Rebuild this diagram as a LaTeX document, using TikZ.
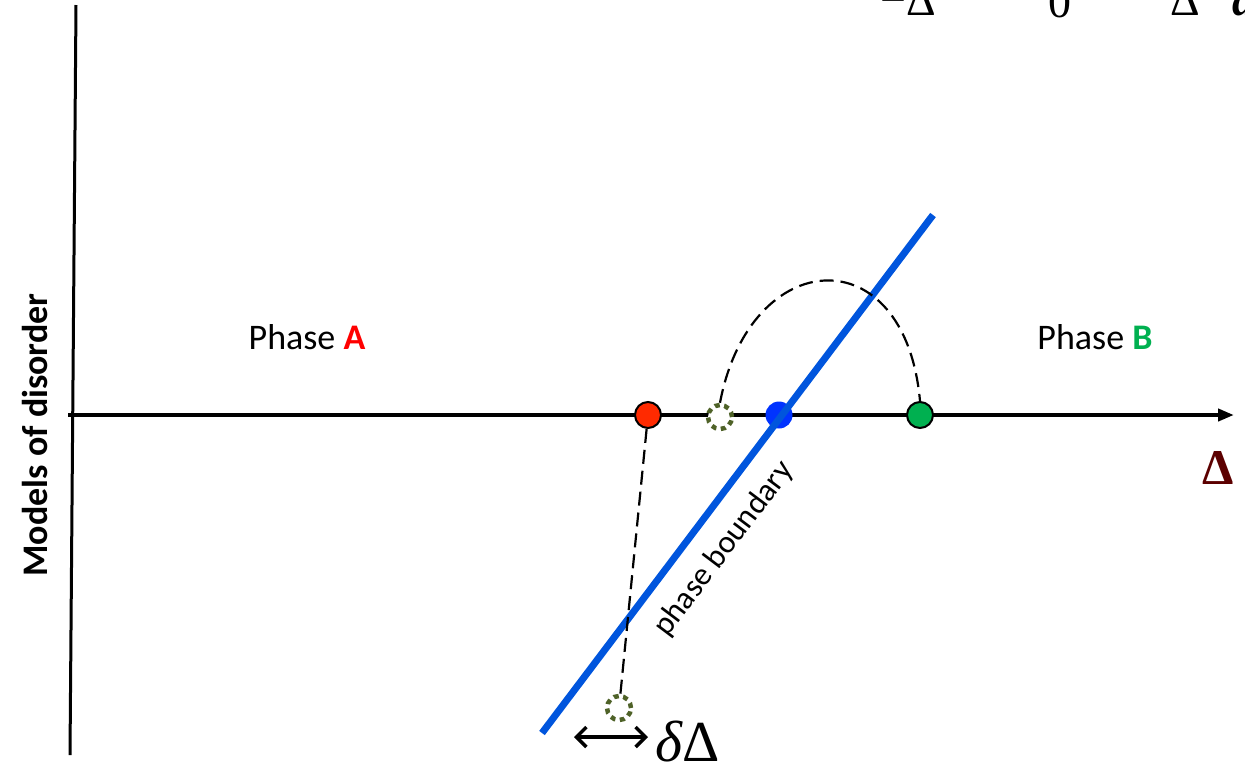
\documentclass[tikz,border=0pt]{standalone}
\usepackage{fontspec}
\setmainfont{Carlito}
\newfontfamily\timesf{Liberation Serif}
\usetikzlibrary{arrows.meta}
\definecolor{bndblue}{RGB}{0,85,221}
\definecolor{dotblue}{RGB}{0,51,255}
\definecolor{dotred}{RGB}{255,42,0}
\definecolor{dotgreen}{RGB}{0,176,80}
\definecolor{ghostgreen}{RGB}{79,98,40}
\definecolor{deltared}{RGB}{92,0,0}
\begin{document}
\begin{tikzpicture}[x=1pt,y=-1pt,
  dot/.style={circle, draw=black, line width=2pt, minimum size=26pt, inner sep=0pt},
  ghost/.style={circle, draw=ghostgreen, line width=4.5pt, dash pattern=on 5pt off 4.5pt,
    fill=white, minimum size=24pt, inner sep=0pt},
  link/.style={black, line width=2.2pt, dash pattern=on 14pt off 7pt}]
  \useasboundingbox (0,0) rectangle (1245,764);
  \clip (0,0) rectangle (1245,764);

  % axes
  \coordinate (ytop) at (76,5);
  \coordinate (ybot) at (70,755);
  \coordinate (xl) at (68,415);
  \coordinate (xr) at (1234,415);
  \draw[line width=3pt] (ytop) -- (ybot);
  \draw[line width=4pt, -{Triangle[length=16pt,width=12pt]}] (xl) -- (xr);
  \node[rotate=90, font=\fontsize{36}{40}\selectfont\bfseries] (ylab) at (35,435) {Models of disorder};
  \node[font=\timesf\bfseries\fontsize{50}{55}\selectfont, text=deltared] (xlab) at (1218,468) {Δ};

  \node[font=\fontsize{36}{40}\selectfont] (pa) at (307,337) {Phase \textcolor{red}{\textbf{A}}};
  \node[font=\fontsize{36}{40}\selectfont] (pb) at (1095,337) {Phase \textcolor{dotgreen}{\textbf{B}}};

  % phase boundary
  \node[circle, fill=dotblue, minimum size=27pt, inner sep=0pt] (crit) at (779,415) {};
  \coordinate (blo) at (542,733);
  \coordinate (bhi) at (933,215);
  \draw[bndblue, line width=7pt] (blo) -- (bhi);
  \node[rotate=53, font=\fontsize{32}{36}\selectfont] (blab) at (724,549) {phase boundary};

  % points on the axis
  \node[dot, fill=dotred] (red) at (648,415) {};
  \node[ghost] (shift) at (720,417) {};
  \node[dot, fill=dotgreen] (green) at (920,415) {};
  \node[ghost] (low) at (619,708) {};

  \draw[link] (red) -- (low);
  \draw[link] (shift.north) .. controls (750,245) and (905,235) .. (green.north);

  % shift
  \coordinate (sl) at (574,737);
  \coordinate (sr) at (648,737);
  \draw[line width=3.5pt, {Straight Barb[length=10pt,width=20pt]}-{Straight Barb[length=10pt,width=20pt]}] (sl) -- (sr);
  \node[font=\timesf\fontsize{58}{62}\selectfont, anchor=west, inner sep=0pt] (dd) at (655,742) {\textit{δ}Δ};

  % cut-off labels at the top
  \node[font=\timesf\fontsize{46}{50}\selectfont, anchor=base] (t1) at (908,15) {−Δ};
  \node[font=\timesf\fontsize{46}{50}\selectfont, anchor=base] (t2) at (1060,17) {0};
  \node[font=\timesf\fontsize{46}{50}\selectfont, anchor=base] (t3) at (1185,15) {Δ};
  \node[font=\timesf\fontsize{46}{50}\selectfont\bfseries, anchor=base west, inner sep=0pt] (t4) at (1232,15) {\textit{a}};
\end{tikzpicture}
\end{document}
